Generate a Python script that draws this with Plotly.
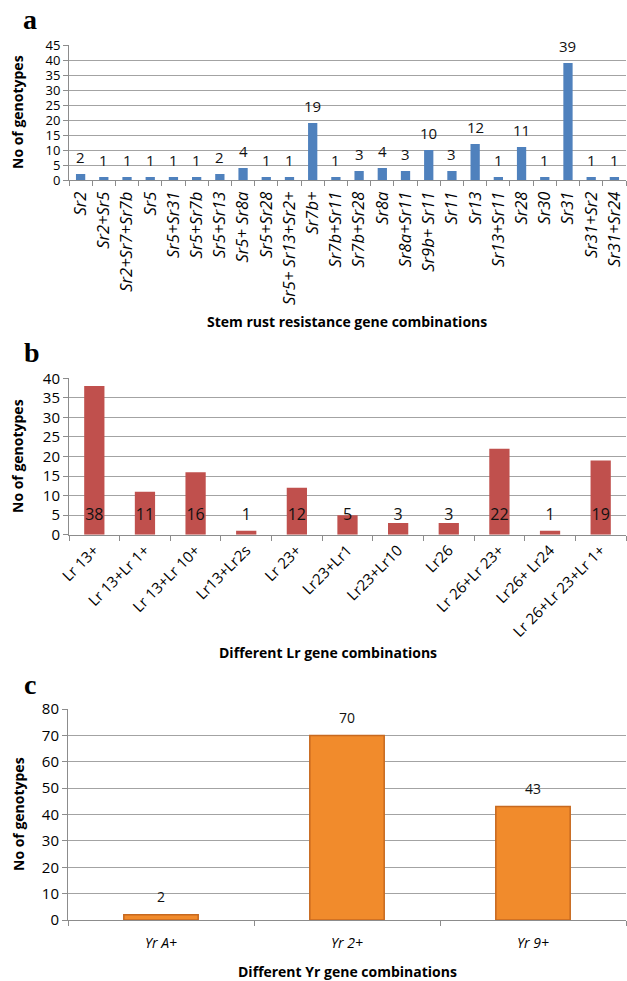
import plotly.graph_objects as go

# ---------------- data ----------------
sr_genes = ["Sr2", "Sr2+Sr5", "Sr2+Sr7+Sr7b", "Sr5", "Sr5+Sr31", "Sr5+Sr7b", "Sr5+Sr13",
            "Sr5+ Sr8a", "Sr5+Sr28", "Sr5+ Sr13+Sr2+", "Sr7b+", "Sr7b+Sr11", "Sr7b+Sr28",
            "Sr8a", "Sr8a+Sr11", "Sr9b+ Sr11", "Sr11", "Sr13", "Sr13+Sr11", "Sr28", "Sr30",
            "Sr31", "Sr31+Sr2", "Sr31+Sr24"]
sr_counts = [2, 1, 1, 1, 1, 1, 2, 4, 1, 1, 19, 1, 3, 4, 3, 10, 3, 12, 1, 11, 1, 39, 1, 1]

lr_genes = ["Lr 13+", "Lr 13+Lr 1+", "Lr 13+Lr 10+", "Lr13+Lr2s", "Lr 23+", "Lr23+Lr1",
            "Lr23+Lr10", "Lr26", "Lr 26+Lr 23+", "Lr26+ Lr24", "Lr 26+Lr 23+Lr 1+"]
lr_counts = [38, 11, 16, 1, 12, 5, 3, 3, 22, 1, 19]

yr_genes = ["Yr A+", "Yr 2+", "Yr 9+"]
yr_counts = [2, 70, 43]

a_ticks = [0, 5, 10, 15, 20, 25, 30, 35, 40, 45]
b_ticks = [0, 5, 10, 15, 20, 25, 30, 35, 40]
c_ticks = [0, 10, 20, 30, 40, 50, 60, 70, 80]

# ---------------- layout helpers ----------------
W, H = 627, 981
FONT = "Open Sans"
GRID = "#A3A3A3"
AXIS = "#8C8C8C"


def px_x(p):
    return p / W


def px_y(p):
    return 1 - p / H


def ital(s):
    return "<i>" + s + "</i>"


fig = go.Figure()

# Panel a
fig.add_trace(go.Bar(x=sr_genes, y=sr_counts, xaxis="x", yaxis="y",
                     marker=dict(color="#4F81BD", line=dict(width=0)), width=0.4,
                     showlegend=False, hoverinfo="skip"))
# Panel b
fig.add_trace(go.Bar(x=lr_genes, y=lr_counts, xaxis="x2", yaxis="y2",
                     marker=dict(color="#C0504D", line=dict(width=0)), width=0.4,
                     showlegend=False, hoverinfo="skip"))
fig.add_trace(go.Scatter(x=lr_genes, y=[4.7] * len(lr_genes), xaxis="x2", yaxis="y2",
                         mode="text", text=[str(v) for v in lr_counts],
                         textposition="middle center",
                         textfont=dict(family=FONT, size=16, color="#111111"),
                         showlegend=False, hoverinfo="skip"))
# Panel c
fig.add_trace(go.Bar(x=yr_genes, y=yr_counts, xaxis="x3", yaxis="y3",
                     marker=dict(color="#F18B2C", line=dict(width=1.5, color="#C7691F")),
                     width=0.4, showlegend=False, hoverinfo="skip"))

annotations = []
for g, v in zip(sr_genes, sr_counts):
    annotations.append(dict(x=g, y=v, xref="x", yref="y", text=str(v), showarrow=False,
                            yanchor="middle", yshift=17,
                            font=dict(family=FONT, size=15, color="#111111")))
for g, v in zip(yr_genes, yr_counts):
    annotations.append(dict(x=g, y=v, xref="x3", yref="y3", text=str(v), showarrow=False,
                            yanchor="middle", yshift=18,
                            font=dict(family=FONT, size=14, color="#111111")))

# panel letters
for letter, (lx, ly) in {"a": (30, 20), "b": (32, 352), "c": (30, 684)}.items():
    annotations.append(dict(x=px_x(lx), y=px_y(ly), xref="paper", yref="paper", text="<b>" + letter + "</b>",
                            showarrow=False, xanchor="center", yanchor="middle",
                            font=dict(family="Liberation Serif", size=28, color="#000000")))

# y titles
for ty in (112, 456, 814):
    annotations.append(dict(x=px_x(18), y=px_y(ty), xref="paper", yref="paper",
                            text="<b>No of genotypes</b>", textangle=-90, showarrow=False,
                            xanchor="center", yanchor="middle",
                            font=dict(family=FONT, size=14, color="#000000")))

# x titles
for txt, tx, ty in (("Stem rust resistance gene combinations", 347, 322),
                    ("Different Lr gene combinations", 328, 652),
                    ("Different Yr gene combinations", 347, 971)):
    annotations.append(dict(x=px_x(tx), y=px_y(ty), xref="paper", yref="paper",
                            text="<b>" + txt + "</b>", showarrow=False,
                            xanchor="center", yanchor="middle",
                            font=dict(family=FONT, size=14, color="#000000")))


def xax(domain, anchor, tickangle, size, ncat, extra=None):
    d = dict(domain=domain, anchor=anchor, type="category", tickangle=tickangle,
             showline=True, linecolor=AXIS, linewidth=1, showgrid=False,
             ticks="outside", tickson="boundaries", ticklen=5, tickcolor=AXIS,
             tickfont=dict(family=FONT, size=size, color="#000000"),
             range=[-0.5, ncat - 0.5], fixedrange=True, automargin=False)
    if extra:
        d.update(extra)
    return d


def yax(domain, anchor, rng, tickvals, size):
    return dict(domain=domain, anchor=anchor, range=rng, tickvals=tickvals,
                showline=True, linecolor=AXIS, linewidth=1,
                showgrid=True, gridcolor=GRID, gridwidth=1,
                ticks="outside", ticklen=5, tickcolor=AXIS,
                tickfont=dict(family=FONT, size=size, color="#000000"),
                zeroline=False, fixedrange=True, automargin=False)


fig.update_layout(
    width=W, height=H,
    margin=dict(l=0, r=0, t=0, b=0),
    paper_bgcolor="white", plot_bgcolor="white",
    xaxis=xax([px_x(69), px_x(626)], "y", -90, 16.5, len(sr_genes),
              dict(tickvals=sr_genes, ticktext=[ital(s) for s in sr_genes], ticklabelstandoff=4)),
    yaxis=yax([px_y(180), px_y(45)], "x", [0, 45], a_ticks, 13),
    xaxis2=xax([px_x(69), px_x(626)], "y2", -45, 15, len(lr_genes)),
    yaxis2=yax([px_y(534.7), px_y(378.3)], "x2", [0, 40], b_ticks, 15),
    xaxis3=xax([px_x(68), px_x(626)], "y3", 0, 14, len(yr_genes),
               dict(tickvals=yr_genes, ticktext=[ital(s) for s in yr_genes], ticklabelstandoff=10)),
    yaxis3=yax([px_y(920), px_y(709)], "x3", [0, 80], c_ticks, 15),
    annotations=annotations,
)

fig.write_html("out.html", config={"displayModeBar": False},
               post_script="document.body.style.margin='0';document.body.style.overflow='hidden';")
